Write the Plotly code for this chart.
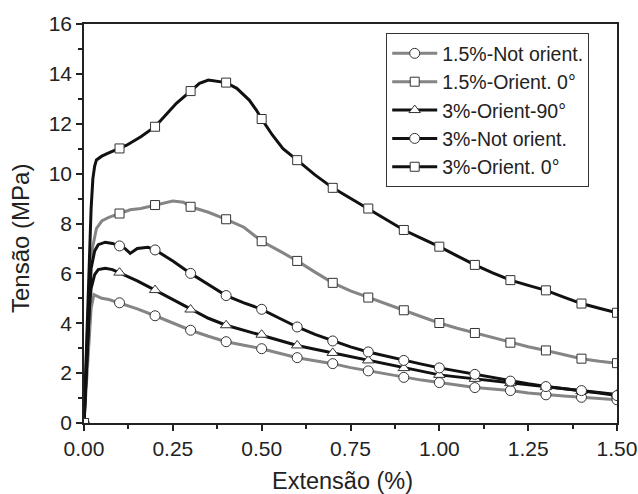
import plotly.graph_objects as go

# ---------------- data ----------------
marker_x = [0, 0.1, 0.2, 0.3, 0.4, 0.5, 0.6, 0.7, 0.8, 0.9, 1.0, 1.1, 1.2, 1.3, 1.4, 1.5]

tail_x = [0.55, 0.6, 0.65, 0.7, 0.75, 0.8, 0.85, 0.9, 0.95, 1.0, 1.05, 1.1,
          1.15, 1.2, 1.25, 1.3, 1.35, 1.4, 1.45, 1.5]

# 1.5%-Not orient. (grey, circles)
x_15_not = [0, 0.005, 0.01, 0.015, 0.02, 0.028, 0.04, 0.05, 0.07, 0.1, 0.15, 0.2,
            0.25, 0.3, 0.35, 0.4, 0.45, 0.5] + tail_x
y_15_not = [0, 1.2, 2.6, 3.8, 4.6, 5.15, 5.05, 5.0, 4.95, 4.82, 4.58, 4.30,
            4.00, 3.72, 3.48, 3.26, 3.12, 2.98, 2.80, 2.62, 2.50, 2.38, 2.22, 2.09,
            1.95, 1.83, 1.72, 1.62, 1.52, 1.42, 1.36, 1.30, 1.20, 1.13, 1.08, 1.03,
            0.98, 0.93]

# 1.5%-Orient. 0° (grey, squares)
x_15_o0 = [0, 0.005, 0.01, 0.015, 0.02, 0.025, 0.035, 0.05, 0.07, 0.1, 0.13, 0.16,
           0.2, 0.25, 0.28, 0.3, 0.35, 0.4, 0.45, 0.5] + tail_x
y_15_o0 = [0, 2.0, 4.2, 5.6, 6.5, 7.1, 7.8, 8.1, 8.25, 8.40, 8.55, 8.6,
           8.74, 8.9, 8.85, 8.67, 8.45, 8.17, 7.85, 7.29, 6.9, 6.50, 6.05, 5.62,
           5.3, 5.03, 4.76, 4.52, 4.26, 4.01, 3.8, 3.61, 3.41, 3.22, 3.06, 2.91,
           2.74, 2.58, 2.48, 2.40]

# 3%-Orient-90° (black, triangles)
x_3_o90 = [0, 0.005, 0.01, 0.015, 0.02, 0.03, 0.04, 0.06, 0.08, 0.1, 0.15, 0.2,
           0.25, 0.3, 0.35, 0.4, 0.45, 0.5] + tail_x
y_3_o90 = [0, 1.5, 3.2, 4.6, 5.4, 5.95, 6.15, 6.2, 6.15, 6.03, 5.7, 5.33,
           4.95, 4.55, 4.2, 3.92, 3.72, 3.54, 3.32, 3.11, 2.96, 2.81, 2.66, 2.51,
           2.35, 2.20, 2.06, 1.93, 1.85, 1.77, 1.68, 1.60, 1.52, 1.44, 1.36, 1.28,
           1.21, 1.14]

# 3%-Not orient. (black, circles)
x_3_not = [0, 0.005, 0.01, 0.015, 0.02, 0.03, 0.04, 0.06, 0.08, 0.1, 0.115, 0.13,
           0.15, 0.18, 0.2, 0.25, 0.3, 0.35, 0.4, 0.45, 0.5] + tail_x
y_3_not = [0, 1.6, 3.6, 5.2, 6.2, 6.9, 7.15, 7.25, 7.2, 7.1, 7.0, 6.8,
           7.0, 7.05, 6.94, 6.5, 6.0, 5.55, 5.11, 4.82, 4.56, 4.2, 3.85, 3.55,
           3.29, 3.05, 2.85, 2.68, 2.51, 2.36, 2.21, 2.08, 1.95, 1.81, 1.68, 1.57,
           1.46, 1.38, 1.30, 1.20, 1.10]

# 3%-Orient. 0° (black, squares)
x_3_o0 = [0, 0.005, 0.01, 0.015, 0.02, 0.025, 0.03, 0.035, 0.05, 0.065, 0.1, 0.12,
          0.16, 0.2, 0.23, 0.26, 0.3, 0.325, 0.35, 0.375, 0.4, 0.43, 0.465, 0.485,
          0.5, 0.53, 0.56, 0.6, 0.65, 0.7, 0.75, 0.8, 0.85, 0.9, 0.95, 1.0, 1.05,
          1.1, 1.15, 1.2, 1.25, 1.3, 1.35, 1.4, 1.45, 1.5]
y_3_o0 = [0, 2.2, 4.6, 6.8, 8.6, 9.8, 10.3, 10.55, 10.7, 10.8, 11.01, 11.14,
          11.48, 11.88, 12.35, 12.82, 13.31, 13.62, 13.75, 13.71, 13.65, 13.42, 12.95, 12.55,
          12.19, 11.55, 11.0, 10.54, 9.95, 9.43, 9.0, 8.60, 8.15, 7.74, 7.4, 7.07, 6.7,
          6.34, 6.02, 5.73, 5.52, 5.32, 5.05, 4.79, 4.6, 4.42]

names = ["1.5%-Not orient.", "1.5%-Orient. 0°", "3%-Orient-90°", "3%-Not orient.", "3%-Orient. 0°"]
x_tick_vals = [0, 0.25, 0.5, 0.75, 1.0, 1.25, 1.5]
x_tick_text = ["0.00", "0.25", "0.50", "0.75", "1.00", "1.25", "1.50"]
y_tick_vals = [0, 2, 4, 6, 8, 10, 12, 14, 16]
x_title = "Extensão (%)"
y_title = "Tensão (MPa)"

# ---------------- styling ----------------
GREY = "#858585"
BLACK = "#111111"
series = [
    (x_15_not, y_15_not, GREY, "circle", 10),
    (x_15_o0, y_15_o0, GREY, "square", 9),
    (x_3_o90, y_3_o90, BLACK, "triangle-up", 10),
    (x_3_not, y_3_not, BLACK, "circle", 10),
    (x_3_o0, y_3_o0, BLACK, "square", 9),
]
FONT = "Liberation Sans, Arial, Helvetica, sans-serif"
AX = "#222222"

fig = go.Figure()
for (xs, ys, col, sym, ms), name in zip(series, names):
    fig.add_trace(go.Scatter(x=xs, y=ys, mode="lines", line=dict(color=col, width=3),
                             showlegend=False, hoverinfo="skip"))
for (xs, ys, col, sym, ms), name in zip(series, names):
    mx = [v for v in marker_x if v in xs]
    my = [ys[xs.index(v)] for v in mx]
    fig.add_trace(go.Scatter(x=mx, y=my, mode="markers", showlegend=False,
                             marker=dict(symbol=sym, size=ms, color="white",
                                         line=dict(color="#333333", width=1))))
# legend entries
for (xs, ys, col, sym, ms), name in zip(series, names):
    fig.add_trace(go.Scatter(x=[None], y=[None], mode="lines+markers", name=name,
                             line=dict(color=col, width=3),
                             marker=dict(symbol=sym, size=ms, color="white",
                                         line=dict(color="#333333", width=1))))

axis_common = dict(showline=True, linecolor=AX, linewidth=1.5, mirror=True,
                   ticks="outside", ticklen=6, tickwidth=1.5, tickcolor=AX,
                   showgrid=False, zeroline=False, automargin=False,
                   tickfont=dict(family=FONT, size=21, color=AX))

fig.update_layout(
    width=638, height=494,
    margin=dict(l=84, r=21, t=24, b=71),
    paper_bgcolor="white", plot_bgcolor="white",
    font=dict(family=FONT, color=AX),
    xaxis=dict(range=[0, 1.5], tickvals=x_tick_vals, ticktext=x_tick_text,
               minor=dict(dtick=0.125, tick0=0, ticks="outside", ticklen=4,
                          tickwidth=1.5, tickcolor=AX),
               **axis_common),
    yaxis=dict(range=[0, 16], tickvals=y_tick_vals,
               minor=dict(dtick=1, tick0=0, ticks="outside", ticklen=4,
                          tickwidth=1.5, tickcolor=AX),
               **axis_common),
    legend=dict(x=0.567, y=0.977, xanchor="left", yanchor="top",
                bgcolor="white", bordercolor="#333333", borderwidth=1,
                font=dict(family=FONT, size=19.5, color=AX),
                tracegroupgap=0, itemwidth=45),
    annotations=[
        dict(text=x_title, xref="paper", yref="paper", x=0.485, y=-0.1454,
             xanchor="center", yanchor="middle", showarrow=False,
             font=dict(family=FONT, size=23.5, color=AX)),
        dict(text=y_title, xref="paper", yref="paper", x=-0.1182, y=0.4637,
             xanchor="center", yanchor="middle", showarrow=False, textangle=-90,
             font=dict(family=FONT, size=24, color=AX)),
    ],
)

fig.write_html("out.html", config={"displayModeBar": False},
               post_script="document.body.style.margin='0px';document.body.style.overflow='hidden';")
